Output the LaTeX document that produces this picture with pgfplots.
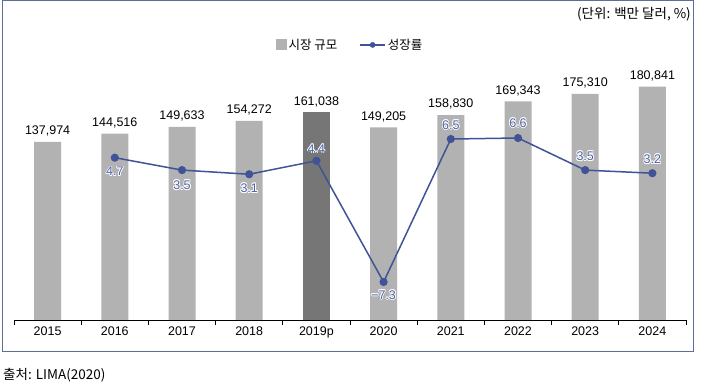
\documentclass[border=0pt]{standalone}
\usepackage{fontspec}
\setmainfont{Liberation Sans}
\newfontfamily\kr{Noto Sans CJK KR}
\usepackage{pgfplots}
\pgfplotsset{compat=1.18}
\definecolor{barg}{RGB}{178,178,178}
\definecolor{bard}{RGB}{118,118,118}
\definecolor{lineb}{RGB}{63,83,150}
\definecolor{lblb}{RGB}{78,98,165}
\definecolor{framec}{RGB}{95,110,150}
\newcommand\hl[2]{\rlap{\hspace{#1}\raisebox{#2}{\color{white}\lbl}}}
\newcommand\halo[1]{\def\lbl{#1}\leavevmode\hl{0.8pt}{0pt}\hl{-0.8pt}{0pt}\hl{0pt}{0.8pt}\hl{0pt}{-0.8pt}\hl{0.6pt}{0.6pt}\hl{-0.6pt}{0.6pt}\hl{0.6pt}{-0.6pt}\hl{-0.6pt}{-0.6pt}{\color{lblb}#1}}
\begin{document}
\begin{tikzpicture}
\path[use as bounding box] (0pt,0pt) rectangle (702pt,390pt);
\draw[framec, line width=1pt] (2.5pt,389.5pt) rectangle (693pt,38pt);
\node[anchor=east, inner sep=0pt, font=\kr\fontsize{13.5}{15}\selectfont] at (691pt,376pt) {(단위: 백만 달러, \%)};
\node[anchor=west, inner sep=0pt, font=\kr\fontsize{13.5}{15}\selectfont] at (3pt,15pt) {출처: LIMA(2020)};
\begin{axis}[
  at={(14pt,70pt)}, anchor=south west, scale only axis,
  width=672pt, height=260pt,
  xmin=-0.5, xmax=9.5, ymin=0, ymax=201500,
  axis x line*=bottom, axis y line=none,
  x axis line style={-, black, line width=0.8pt},
  xtick={0,...,9},
  xticklabels={2015,2016,2017,2018,2019p,2020,2021,2022,2023,2024},
  major tick length=0pt,
  xtick align=outside,
  extra x ticks={-0.5,0.5,1.5,2.5,3.5,4.5,5.5,6.5,7.5,8.5,9.5},
  extra x tick labels={},
  extra x tick style={major tick length=5pt, tick style={black, line width=0.8pt}},
  xticklabel style={font=\fontsize{12.5}{14}\selectfont, yshift=-3pt},
  ytick=\empty,
  clip=false,
  legend style={at={(0.5,1.058)}, anchor=center, draw=none, fill=none,
    font=\kr\fontsize{12.5}{14}\selectfont, legend columns=2,
    /tikz/every even column/.append style={column sep=20pt}},
  nodes near coords style={font=\fontsize{12.5}{14}\selectfont, anchor=south, yshift=2pt, text=black,
    /pgf/number format/.cd, fixed, 1000 sep={,}, assume math mode=true},
]
\addplot[ybar, bar width=27pt, bar shift=0pt, fill=barg, draw=none, nodes near coords,
  legend image code/.code={\fill[barg] (0pt,-5.5pt) rectangle (11pt,5.5pt);}]
  coordinates {(0,137974) (1,144516) (2,149633) (3,154272) (5,149205) (6,158830) (7,169343) (8,175310) (9,180841)};
\addlegendentry{시장 규모}
\addplot[ybar, bar width=27pt, bar shift=0pt, fill=bard, draw=none, nodes near coords, forget plot]
  coordinates {(4,161038)};
\addlegendimage{legend image code/.code={\draw[lineb, line width=1.3pt] (0pt,0pt) -- (25pt,0pt); \fill[lineb] (12.5pt,0pt) circle (2.6pt);}}
\addlegendentry{성장률}
\end{axis}
\begin{axis}[
  at={(14pt,70pt)}, anchor=south west, scale only axis,
  width=672pt, height=260pt,
  xmin=-0.5, xmax=9.5, ymin=-10.97, ymax=14.13,
  hide axis, clip=false,
]
\addplot[lineb, line width=1.5pt, mark=*, mark size=3.3pt, mark options={fill=lineb, draw=lineb},
  nodes near coords={\halo{\pgfplotspointmeta}}, point meta=explicit symbolic,
  visualization depends on={value \thisrow{off} \as \off},
  every node near coord/.append style={anchor=center, yshift=\off pt, font=\fontsize{12.5}{14}\selectfont}]
  table[meta=lab] {
x y off lab
1 4.7 -14 4.7
2 3.5 -15 3.5
3 3.1 -14 3.1
4 4.4 12 4.4
5 -7.3 -13 −7.3
6 6.5 14 6.5
7 6.6 15 6.6
8 3.5 14 3.5
9 3.2 14 3.2
};
\end{axis}
\end{tikzpicture}
\end{document}
